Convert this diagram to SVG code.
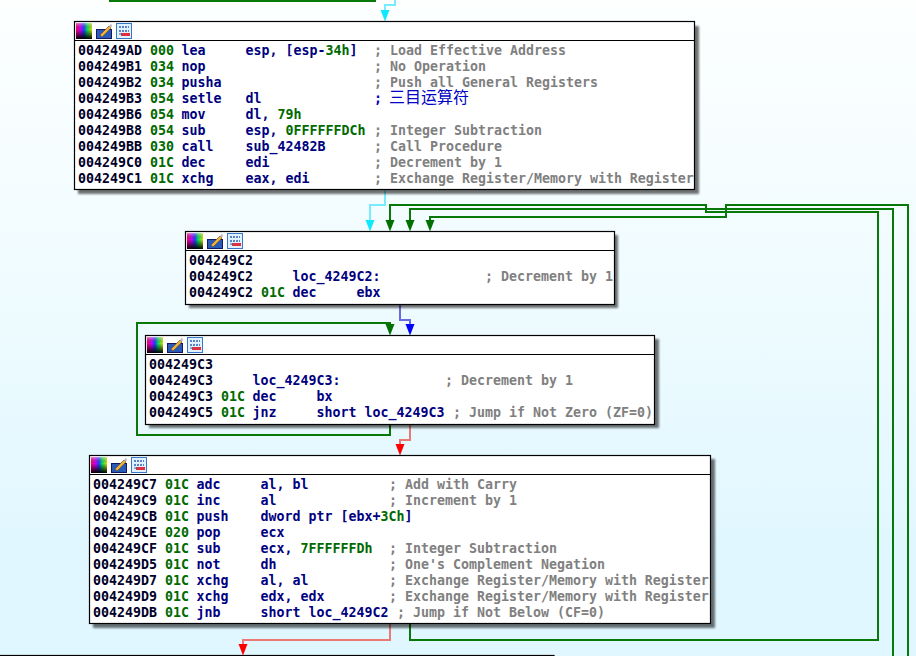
<svg xmlns="http://www.w3.org/2000/svg" width="916" height="656" viewBox="0 0 916 656">
<style>
text{font-family:"DejaVu Sans Mono","Liberation Mono",monospace;font-size:13.29px;font-weight:bold;fill:#000080;white-space:pre}
.a{fill:#000028}.o{fill:#006a00}.n{fill:#006a00}.c{fill:#808080}
.cj{font-family:"Noto Sans CJK SC",sans-serif;font-size:16px;font-weight:normal;fill:#0000c8}
.box{fill:#fff;stroke:#000;stroke-width:1.2}
.sh{fill:#000;opacity:.55;filter:url(#blur)}
.hd{stroke:#000;stroke-width:1.2}
.g{fill:none;stroke:#087808;stroke-width:2}
.cy{fill:none;stroke:#78ecff;stroke-width:2}
.bl{fill:none;stroke:#6a6ae0;stroke-width:2}
.rd{fill:none;stroke:#ec7878;stroke-width:2}
.hg{fill:#007000}.hc{fill:#10e8ff}.hb{fill:#0000ff}.hr{fill:#ff0000}
</style>
<defs>
<linearGradient id="bg" x1="0" y1="0" x2="0" y2="1"><stop offset="0" stop-color="#fdffff"/><stop offset=".35" stop-color="#f2fcff"/><stop offset=".85" stop-color="#e0f7ff"/></linearGradient>
<linearGradient id="rb" x1="0" y1="0" x2="1" y2="0"><stop offset="0" stop-color="#ff0060"/><stop offset=".3" stop-color="#c000ff"/><stop offset=".5" stop-color="#2040ff"/><stop offset=".7" stop-color="#00e060"/><stop offset="1" stop-color="#e0e000"/></linearGradient>
<linearGradient id="dk" x1="0" y1="0" x2="0" y2="1"><stop offset="0" stop-color="#fff" stop-opacity=".5"/><stop offset=".4" stop-color="#000" stop-opacity="0"/><stop offset="1" stop-color="#000"/></linearGradient>
<filter id="blur" x="-5%" y="-10%" width="110%" height="120%"><feGaussianBlur stdDeviation="1.2"/></filter>
<g id="icons">
<rect x="0" y="0" width="16" height="16" fill="url(#rb)"/><rect x="0" y="0" width="16" height="16" fill="url(#dk)"/>
<rect x="20.500" y="6.500" width="15" height="9" fill="#2a5ab8" stroke="#101860"/>
<path d="M24 12L33 3L35 5L26 14Z" fill="#f0b040" stroke="#705020" stroke-width=".7"/><path d="M33 3L35 0.500L36 3L35 5Z" fill="#c0c0c0"/>
<rect x="40.500" y="0.500" width="15" height="15" fill="#dff0ff" stroke="#3878c8"/>
<path d="M43 4H53M43 8H53" stroke="#3060b0" stroke-width="1.500" stroke-dasharray="2 1" fill="none"/><rect x="45" y="10" width="9" height="3" fill="#e03040"/><path d="M43 11H46" stroke="#3060b0"/>
</g>
</defs>
<rect width="916" height="656" fill="url(#bg)"/>

<g id="connectors">
<path class="g" style="stroke-width:4" d="M109 0H376"/>
<path class="cy" d="M395 0V5H385V12"/>
<path class="cy" d="M385 190V205H370V222"/>
<path class="g" d="M390 222V205H706V212H878V640H410V624"/>
<path class="g" d="M410 222V209H893V656"/>
<path class="g" d="M430 222V217H726V205H908V656"/>
<path class="bl" d="M400 304V320H410V326"/>
<path class="g" d="M390 424V435H137V323H390V327"/>
<path class="rd" d="M410 424V440H400V447"/>
<path class="rd" d="M390 624V640H243V645"/>
<path class="hc" d="M380.500 10H389.500L385 21.500Z"/>
<path class="hc" d="M365.500 220H374.500L370 231.500Z"/>
<path class="hg" d="M385.500 220H394.500L390 231.500Z"/>
<path class="hg" d="M405.500 220H414.500L410 231.500Z"/>
<path class="hg" d="M425.500 220H434.500L430 231.500Z"/>
<path class="hb" d="M405.500 324H414.500L410 335.500Z"/>
<path class="hg" d="M385.500 324H394.500L390 335.500Z"/>
<path class="hr" d="M395.500 444H404.500L400 455.500Z"/>
<path class="hr" d="M238.500 644H247.500L243 655.500Z"/>
</g>

<g id="node-004249AD">
<rect class="sh" x="78" y="26" width="621" height="168"/>
<rect class="box" x="74.500" y="21.500" width="620" height="168"/>
<path class="hd" d="M74.500 40.500H694.500"/>
<use href="#icons" x="76" y="23"/>
<text y="55"><tspan class="a" x="78">004249AD</tspan><tspan class="o" x="150">000</tspan><tspan x="181.500">lea</tspan><tspan x="245.500">esp, [esp-</tspan><tspan class="n" x="325.500">34h</tspan><tspan x="349.500">]</tspan><tspan class="c" x="374">; Load Effective Address</tspan></text>
<text y="71"><tspan class="a" x="78">004249B1</tspan><tspan class="o" x="150">034</tspan><tspan x="181.500">nop</tspan><tspan class="c" x="374">; No Operation</tspan></text>
<text y="87"><tspan class="a" x="78">004249B2</tspan><tspan class="o" x="150">034</tspan><tspan x="181.500">pusha</tspan><tspan class="c" x="374">; Push all General Registers</tspan></text>
<text y="103"><tspan class="a" x="78">004249B3</tspan><tspan class="o" x="150">054</tspan><tspan x="181.500">setle</tspan><tspan x="245.500">dl</tspan><tspan x="374" fill="#0000c8">;</tspan><tspan class="cj" x="389">三目运算符</tspan></text>
<text y="119"><tspan class="a" x="78">004249B6</tspan><tspan class="o" x="150">054</tspan><tspan x="181.500">mov</tspan><tspan x="245.500">dl, </tspan><tspan class="n" x="277.500">79h</tspan></text>
<text y="135"><tspan class="a" x="78">004249B8</tspan><tspan class="o" x="150">054</tspan><tspan x="181.500">sub</tspan><tspan x="245.500">esp, </tspan><tspan class="n" x="285.500">0FFFFFFDCh</tspan><tspan class="c" x="374">; Integer Subtraction</tspan></text>
<text y="151"><tspan class="a" x="78">004249BB</tspan><tspan class="o" x="150">030</tspan><tspan x="181.500">call</tspan><tspan x="245.500">sub_42482B</tspan><tspan class="c" x="374">; Call Procedure</tspan></text>
<text y="167"><tspan class="a" x="78">004249C0</tspan><tspan class="o" x="150">01C</tspan><tspan x="181.500">dec</tspan><tspan x="245.500">edi</tspan><tspan class="c" x="374">; Decrement by 1</tspan></text>
<text y="183"><tspan class="a" x="78">004249C1</tspan><tspan class="o" x="150">01C</tspan><tspan x="181.500">xchg</tspan><tspan x="245.500">eax, edi</tspan><tspan class="c" x="374">; Exchange Register/Memory with Register</tspan></text>
</g>

<g id="node-004249C2">
<rect class="sh" x="189" y="235" width="429" height="73"/>
<rect class="box" x="185.500" y="231.500" width="429" height="73"/>
<path class="hd" d="M185.500 250.500H614.500"/>
<use href="#icons" x="187" y="233"/>
<text y="265"><tspan class="a" x="189">004249C2</tspan></text>
<text y="281"><tspan class="a" x="189">004249C2</tspan><tspan x="292.500">loc_4249C2:</tspan><tspan class="c" x="485">; Decrement by 1</tspan></text>
<text y="297"><tspan class="a" x="189">004249C2</tspan><tspan class="o" x="261">01C</tspan><tspan x="292.500">dec</tspan><tspan x="356.500">ebx</tspan></text>
</g>

<g id="node-004249C3">
<rect class="sh" x="149" y="339" width="510" height="89"/>
<rect class="box" x="145.500" y="335.500" width="509" height="89"/>
<path class="hd" d="M145.500 354.500H654.500"/>
<use href="#icons" x="147" y="337"/>
<text y="369"><tspan class="a" x="149">004249C3</tspan></text>
<text y="385"><tspan class="a" x="149">004249C3</tspan><tspan x="252.500">loc_4249C3:</tspan><tspan class="c" x="445">; Decrement by 1</tspan></text>
<text y="401"><tspan class="a" x="149">004249C3</tspan><tspan class="o" x="221">01C</tspan><tspan x="252.500">dec</tspan><tspan x="316.500">bx</tspan></text>
<text y="417"><tspan class="a" x="149">004249C5</tspan><tspan class="o" x="221">01C</tspan><tspan x="252.500">jnz</tspan><tspan x="316.500">short loc_4249C3</tspan><tspan class="c" x="453">; Jump if Not Zero (ZF=0)</tspan></text>
</g>

<g id="node-004249C7">
<rect class="sh" x="93" y="459" width="622" height="169"/>
<rect class="box" x="89.500" y="455.500" width="621" height="168"/>
<path class="hd" d="M89.500 474.500H710.500"/>
<use href="#icons" x="91" y="457"/>
<text y="489"><tspan class="a" x="93">004249C7</tspan><tspan class="o" x="165">01C</tspan><tspan x="196.500">adc</tspan><tspan x="260.500">al, bl</tspan><tspan class="c" x="389">; Add with Carry</tspan></text>
<text y="505"><tspan class="a" x="93">004249C9</tspan><tspan class="o" x="165">01C</tspan><tspan x="196.500">inc</tspan><tspan x="260.500">al</tspan><tspan class="c" x="389">; Increment by 1</tspan></text>
<text y="521"><tspan class="a" x="93">004249CB</tspan><tspan class="o" x="165">01C</tspan><tspan x="196.500">push</tspan><tspan x="260.500">dword ptr [ebx+</tspan><tspan class="n" x="380.500">3Ch</tspan><tspan x="404.500">]</tspan></text>
<text y="537"><tspan class="a" x="93">004249CE</tspan><tspan class="o" x="165">020</tspan><tspan x="196.500">pop</tspan><tspan x="260.500">ecx</tspan></text>
<text y="553"><tspan class="a" x="93">004249CF</tspan><tspan class="o" x="165">01C</tspan><tspan x="196.500">sub</tspan><tspan x="260.500">ecx, </tspan><tspan class="n" x="300.500">7FFFFFFDh</tspan><tspan class="c" x="389">; Integer Subtraction</tspan></text>
<text y="569"><tspan class="a" x="93">004249D5</tspan><tspan class="o" x="165">01C</tspan><tspan x="196.500">not</tspan><tspan x="260.500">dh</tspan><tspan class="c" x="389">; One's Complement Negation</tspan></text>
<text y="585"><tspan class="a" x="93">004249D7</tspan><tspan class="o" x="165">01C</tspan><tspan x="196.500">xchg</tspan><tspan x="260.500">al, al</tspan><tspan class="c" x="389">; Exchange Register/Memory with Register</tspan></text>
<text y="601"><tspan class="a" x="93">004249D9</tspan><tspan class="o" x="165">01C</tspan><tspan x="196.500">xchg</tspan><tspan x="260.500">edx, edx</tspan><tspan class="c" x="389">; Exchange Register/Memory with Register</tspan></text>
<text y="617"><tspan class="a" x="93">004249DB</tspan><tspan class="o" x="165">01C</tspan><tspan x="196.500">jnb</tspan><tspan x="260.500">short loc_4249C2</tspan><tspan class="c" x="397">; Jump if Not Below (CF=0)</tspan></text>
</g>

<g id="node-next">
<rect class="box" x="-2" y="655.500" width="556" height="10"/>
</g>
</svg>
